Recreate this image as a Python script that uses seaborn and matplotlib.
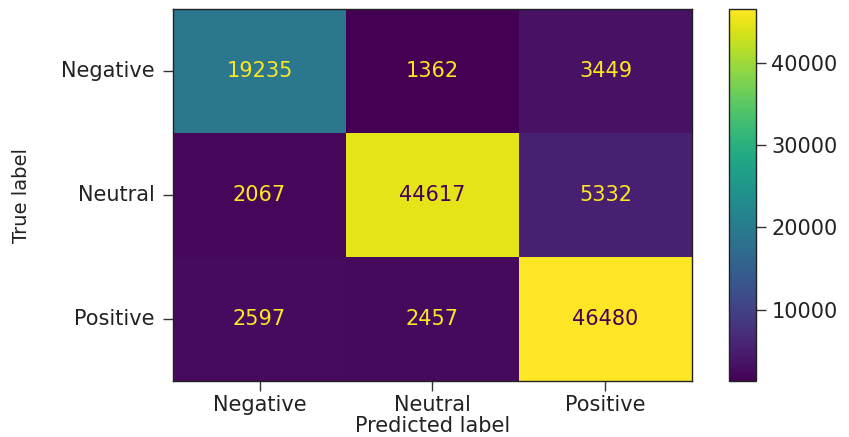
import numpy as np
import pandas as pd
import matplotlib
matplotlib.use("Agg")
import matplotlib.pyplot as plt
import seaborn as sns

# Confusion matrix counts (rows: true label, columns: predicted label)
class_names = ["Negative", "Neutral", "Positive"]
row_negative = [19235, 1362, 3449]
row_neutral = [2067, 44617, 5332]
row_positive = [2597, 2457, 46480]
cbar_ticks = [10000, 20000, 30000, 40000]

cm = pd.DataFrame([row_negative, row_neutral, row_positive],
                  index=class_names, columns=class_names)

sns.set_theme(style="white")
plt.rcParams["font.family"] = ["DejaVu Sans"]
FS = 15

fig = plt.figure(figsize=(8.49, 4.37), dpi=100)
ax = fig.add_axes([0.2038, 0.128, 0.6112, 0.851])
cax = fig.add_axes([0.8587, 0.128, 0.0318, 0.851])

cmap = plt.get_cmap("viridis")
vmin, vmax = cm.values.min(), cm.values.max()
sns.heatmap(cm, ax=ax, cbar_ax=cax, cmap=cmap, vmin=vmin, vmax=vmax,
            annot=True, fmt="d", annot_kws={"fontsize": FS},
            cbar_kws={"ticks": cbar_ticks})

# Text colour flips at the midpoint of the colour range
thresh = (vmin + vmax) / 2.0
for txt, val in zip(ax.texts, cm.values.ravel()):
    txt.set_color(cmap(0.0) if val >= thresh else cmap(1.0))

ax.set_xlabel("Predicted label", fontsize=FS, color="#222222", labelpad=1)
ax.set_ylabel("True label", fontsize=FS - 1, color="#222222", labelpad=22)
ax.tick_params(axis="y", length=7, width=1, color="#333333", pad=6,
               labelsize=FS, labelcolor="#222222", left=True)
ax.tick_params(axis="x", length=7, width=1, color="#333333", pad=3,
               labelsize=FS, labelcolor="#222222", bottom=True)
ax.set_yticklabels(class_names, rotation=0)
ax.set_xticklabels(class_names, rotation=0)
for s in ax.spines.values():
    s.set_visible(True)
    s.set_color("#222222")
    s.set_linewidth(1)

cb = ax.collections[0].colorbar
cb.outline.set_visible(True)
cb.outline.set_linewidth(1)
cb.outline.set_edgecolor("#222222")
cax.tick_params(axis="y", length=7, width=1, color="#333333", pad=4,
                labelsize=FS, labelcolor="#222222", right=True)

fig.savefig("out.png", dpi=100)
